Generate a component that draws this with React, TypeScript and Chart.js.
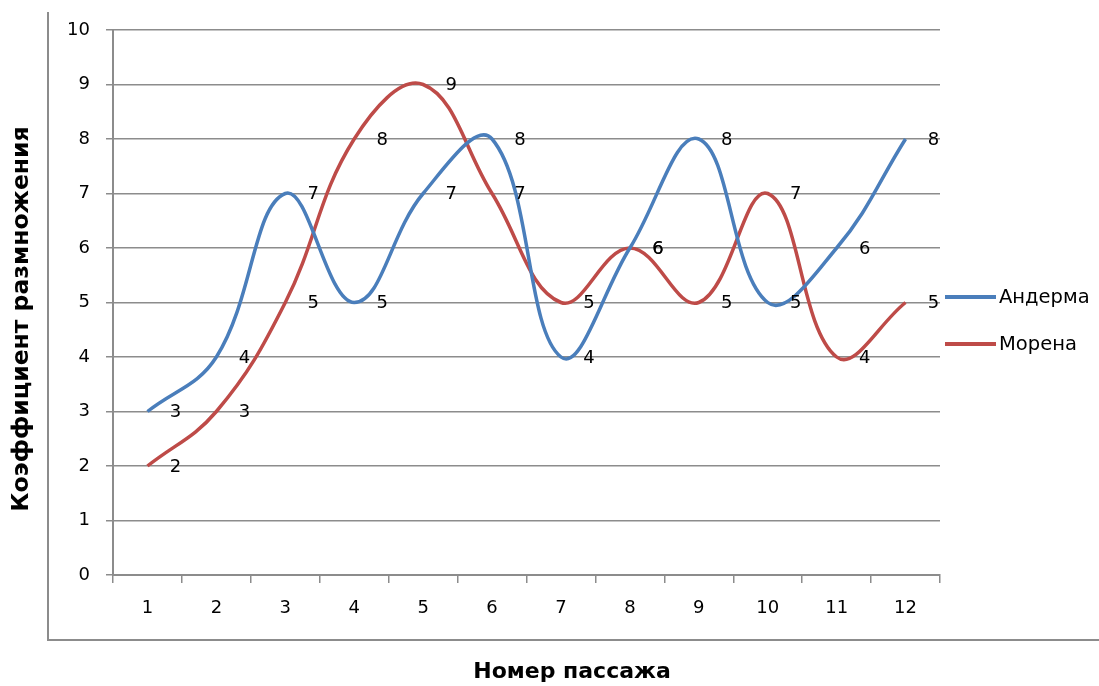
import React, { useEffect, useRef } from "react"
import { Chart, registerables } from "chart.js"

Chart.register(...registerables)

const passages = ["1", "2", "3", "4", "5", "6", "7", "8", "9", "10", "11", "12"]
const andermaValues = [3, 4, 7, 5, 7, 8, 4, 6, 8, 5, 6, 8]
const morenaValues = [2, 3, 5, 8, 9, 7, 5, 6, 5, 7, 4, 5]
const seriesNames = ["Андерма", "Морена"]
const seriesColors = ["#4A7EBB", "#BE4B48"]

const FONT = "'DejaVu Sans', 'Noto Sans', sans-serif"
const GRID = "#8c8c8c"

// frame lines, titles, data labels and legend drawn by hand (Excel look)
const excelDecor = {
    id: "excelDecor",
    afterDraw(chart: Chart) {
        const ctx = chart.ctx
        const xs = chart.scales.x
        const ys = chart.scales.y
        ctx.save()

        // outer frame (left + bottom only)
        ctx.strokeStyle = GRID
        ctx.lineWidth = 2
        ctx.beginPath()
        ctx.moveTo(48, 12)
        ctx.lineTo(48, 640)
        ctx.lineTo(1099, 640)
        ctx.stroke()

        // data labels
        ctx.fillStyle = "#000"
        ctx.font = `18px ${FONT}`
        ctx.textAlign = "center"
        ctx.textBaseline = "middle"
        chart.data.datasets.forEach((ds) => {
            ;(ds.data as number[]).forEach((v, i) => {
                ctx.fillText(String(v), xs.getPixelForValue(i) + 28, ys.getPixelForValue(v) + 1)
            })
        })

        // axis titles
        ctx.font = `bold 22px ${FONT}`
        ctx.fillText("Номер пассажа", 572, 672)
        ctx.save()
        ctx.font = `bold 23.5px ${FONT}`
        ctx.translate(22, 319)
        ctx.rotate(-Math.PI / 2)
        ctx.fillText("Коэффициент размножения", 0, 0)
        ctx.restore()

        // legend
        ctx.textAlign = "left"
        ctx.font = `19.5px ${FONT}`
        chart.data.datasets.forEach((ds, i) => {
            const y = 297 + i * 47
            ctx.strokeStyle = ds.borderColor as string
            ctx.lineWidth = 4
            ctx.beginPath()
            ctx.moveTo(945, y)
            ctx.lineTo(996, y)
            ctx.stroke()
            ctx.fillStyle = "#000"
            ctx.fillText(ds.label as string, 999, y + 1)
        })

        ctx.restore()
    },
}

export default function App() {
    const chartRef = useRef<HTMLCanvasElement>(null)
    const chartInstance = useRef<Chart | null>(null)

    useEffect(() => {
        document.body.style.margin = "0"
        if (!chartRef.current) return
        if (chartInstance.current) chartInstance.current.destroy()
        const ctx = chartRef.current.getContext("2d")
        if (!ctx) return

        chartInstance.current = new Chart(ctx, {
            type: "line",
            data: {
                labels: passages,
                datasets: [
                    {
                        label: seriesNames[0],
                        data: andermaValues,
                        borderColor: seriesColors[0],
                        borderWidth: 3.5,
                        pointRadius: 0,
                        tension: 0.4,
                        fill: false,
                    },
                    {
                        label: seriesNames[1],
                        data: morenaValues,
                        borderColor: seriesColors[1],
                        borderWidth: 3.5,
                        pointRadius: 0,
                        tension: 0.4,
                        fill: false,
                    },
                ],
            },
            options: {
                animation: false,
                responsive: true,
                maintainAspectRatio: false,
                layout: { padding: { left: 0, top: 30, right: 159, bottom: 0 } },
                plugins: {
                    legend: { display: false },
                    tooltip: { enabled: false },
                },
                scales: {
                    x: {
                        offset: true,
                        afterFit: (scale: any) => {
                            scale.height = 111
                        },
                        grid: {
                            offset: true,
                            drawOnChartArea: false,
                            drawTicks: true,
                            tickLength: 8,
                            color: GRID,
                            lineWidth: 1.5,
                        },
                        border: { color: GRID, width: 2 },
                        ticks: {
                            color: "#000",
                            padding: 15,
                            maxRotation: 0,
                            font: { family: FONT, size: 18 },
                        },
                    },
                    y: {
                        min: 0,
                        max: 10,
                        afterFit: (scale: any) => {
                            scale.width = 113
                        },
                        grid: {
                            color: GRID,
                            lineWidth: 1.5,
                            tickLength: 7,
                        },
                        border: { color: GRID, width: 2 },
                        ticks: {
                            stepSize: 1,
                            color: "#000",
                            padding: 16,
                            font: { family: FONT, size: 18 },
                        },
                    },
                },
            },
            plugins: [excelDecor],
        })

        return () => {
            if (chartInstance.current) {
                chartInstance.current.destroy()
                chartInstance.current = null
            }
        }
    }, [])

    return (
        <div style={{ width: 1099, height: 686, position: "relative", background: "#fff" }}>
            <canvas ref={chartRef} />
        </div>
    )
}
